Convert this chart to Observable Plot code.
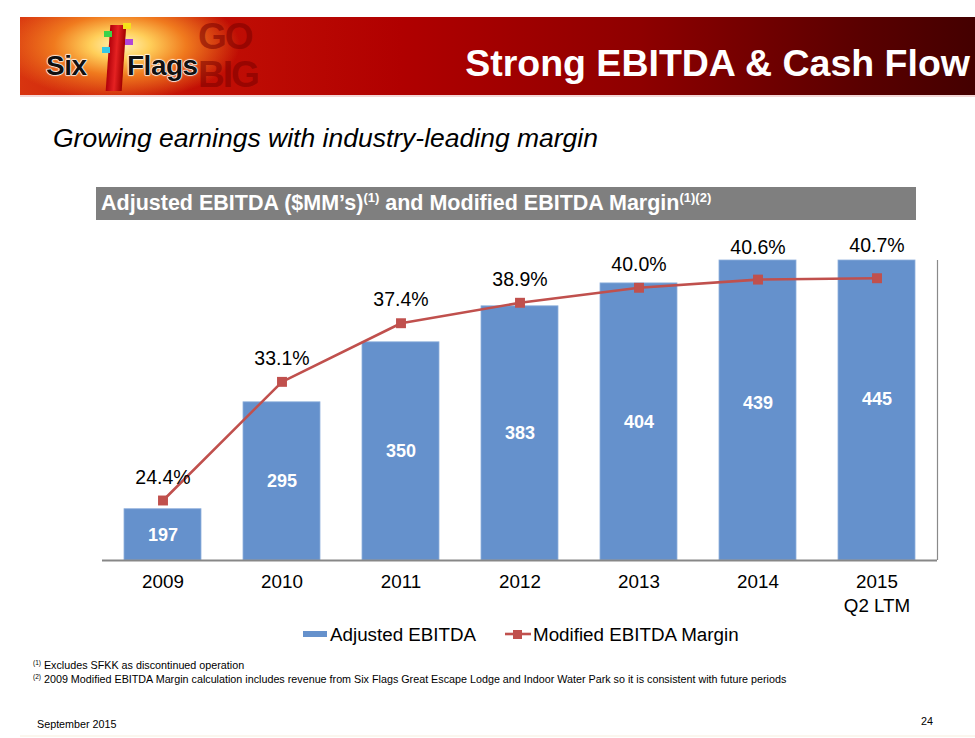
<!DOCTYPE html>
<html>
<head>
<meta charset="utf-8">
<script src="https://cdn.jsdelivr.net/npm/d3@7"></script>
<script src="https://cdn.jsdelivr.net/npm/@observablehq/plot@0.6"></script>
<style>
  html, body { margin: 0; padding: 0; background: #fff; }
  body { width: 975px; height: 738px; position: relative; overflow: hidden; font-family: "Liberation Sans", Arial, sans-serif; }
  .abs { position: absolute; white-space: nowrap; }
  #banner { left: 20px; top: 17px; width: 955px; height: 78px;
    background: linear-gradient(to right, #d8340f 0%, #c31005 18%, #b00000 40%, #8e0000 65%, #5a0000 88%, #440000 100%); overflow: hidden; }
  #glow { left: 0; top: 0; width: 260px; height: 78px;
    background: radial-gradient(ellipse 120px 55px at 100px 28px, #fff6c0 0%, #ffcf5a 25%, #f07a1e 55%, rgba(220,50,15,0) 100%); }
  .gobig { left: 178px; width: 110px; height: 38px; font-weight: bold; font-size: 37px; line-height: 38px; color: rgba(120,0,0,0.55); letter-spacing: -2px; }
  #go { top: 1px; }
  #big { top: 39px; }
  #tower { left: 88px; top: 8px; width: 16px; height: 66px; background: linear-gradient(to right, #b0000a, #e52222, #a00000); transform: skewX(-4deg); }
  .flag { position: absolute; width: 8px; height: 6px; }
  #six, #flags { top: 33px; font-weight: bold; font-size: 28px; color: #111; -webkit-text-stroke: 1px #fff; paint-order: stroke fill; letter-spacing: -0.5px; text-shadow: 0 0 2px #fff, 0 0 2px #fff; }
  #six { left: 26px; }
  #flags { left: 107px; }
  #title { right: 5px; top: 25px; font-weight: bold; font-size: 37.5px; color: #fff; }
  #rule { left: 20px; top: 95px; width: 955px; height: 2px; background: #f3d6d6; }
  #subtitle { left: 53px; top: 123px; font-style: italic; font-size: 26.5px; color: #000; }
  #graybar { left: 96px; top: 187px; width: 820px; height: 33px; background: #7f7f7f; }
  #graytext { left: 101px; top: 191px; font-weight: bold; font-size: 21.5px; color: #fff; }
  #graytext sup { font-size: 13px; vertical-align: 8px; line-height: 0; }
  #chart { left: 0; top: 230px; }
  #legend { left: 0; top: 622px; width: 975px; height: 24px; color: #000; }
  .fn { font-size: 10.75px; color: #000; }
  .fn sup { font-size: 6.5px; vertical-align: 4px; line-height: 0; }
  #foot1 { left: 33px; top: 659px; }
  #foot2 { left: 33px; top: 673px; }
  #date { left: 37px; top: 718px; font-size: 10.75px; }
  #page { left: 921px; top: 715px; font-size: 10.75px; }
  #footline { left: 20px; top: 735px; width: 955px; height: 2px; background: #fbf6ee; }
</style>
</head>
<body>
<div id="banner" class="abs">
  <div id="glow" class="abs"></div>
  <div id="go" class="abs gobig">GO</div>
  <div id="big" class="abs gobig">BIG</div>
  <div id="tower" class="abs"></div>
  <div class="flag" style="left:103px;top:6px;background:#f4e21a"></div>
  <div class="flag" style="left:84px;top:14px;background:#3bd24a"></div>
  <div class="flag" style="left:105px;top:22px;background:#b046d8"></div>
  <div class="flag" style="left:82px;top:30px;background:#35c8e6"></div>
  <div id="six" class="abs">Six</div>
  <div id="flags" class="abs">Flags</div>
  <div id="title" class="abs">Strong EBITDA &amp; Cash Flow</div>
</div>
<div id="rule" class="abs"></div>
<div id="subtitle" class="abs">Growing earnings with industry-leading margin</div>
<div id="graybar" class="abs"></div>
<div id="graytext" class="abs">Adjusted EBITDA ($MM’s)<sup>(1)</sup> and Modified EBITDA Margin<sup>(1)(2)</sup></div>
<div id="chart" class="abs"></div>
<div id="legend" class="abs"></div>
<div id="foot1" class="abs fn"><sup>(1)</sup> Excludes SFKK as discontinued operation</div>
<div id="foot2" class="abs fn"><sup>(2)</sup> 2009 Modified EBITDA Margin calculation includes revenue from Six Flags Great Escape Lodge and Indoor Water Park so it is consistent with future periods</div>
<div id="date" class="abs">September 2015</div>
<div id="page" class="abs">24</div>
<div id="footline" class="abs"></div>
<script>
// ---- data ----
const years = ["2009", "2010", "2011", "2012", "2013", "2014", "2015\nQ2 LTM"];
const adjustedEbitda = [197, 295, 350, 383, 404, 439, 445];        // $MM
const modifiedMargin = [24.4, 33.1, 37.4, 38.9, 40.0, 40.6, 40.7];  // %
const ebitdaDomain = [150, 425];
const marginDomain = [20, 42];
const seriesNames = ["Adjusted EBITDA", "Modified EBITDA Margin"];

const barColor = "#6591cc";
const lineColor = "#c0504d";

const rows = years.map((year, i) => ({year, ebitda: adjustedEbitda[i], margin: modifiedMargin[i], i}));
// secondary axis: map margin (%) onto the EBITDA scale
const marginToY = d3.scaleLinear(marginDomain, ebitdaDomain);

const W = 975, H = 390;
const chart = Plot.plot({
  width: W, height: H,
  marginTop: 30, marginBottom: 60, marginLeft: 102, marginRight: 38,
  style: {fontFamily: "'Liberation Sans', Arial, sans-serif", background: "transparent", overflow: "visible"},
  x: {domain: years, paddingInner: 0.355, paddingOuter: 0.178, axis: null},
  y: {domain: ebitdaDomain, clamp: true, axis: null},
  marks: [
    Plot.barY(rows, {x: "year", y: "ebitda", fill: barColor, stroke: "#8fb0dc", strokeWidth: 0.8}),
    Plot.ruleY([ebitdaDomain[0]], {stroke: "#878787", strokeWidth: 2.2}),
    Plot.text(rows, {x: "year", y: d => (ebitdaDomain[0] + d.ebitda) / 2, text: d => String(d.ebitda),
      fill: "#fff", fontWeight: "bold", fontSize: 18}),
    Plot.line(rows, {x: "year", y: d => marginToY(d.margin), stroke: lineColor, strokeWidth: 2.6}),
    Plot.dot(rows, {x: "year", y: d => marginToY(d.margin), symbol: "square", r: 5.6, fill: lineColor, stroke: "none"}),
    Plot.text(rows.filter(d => d.i < 5), {x: "year", y: d => marginToY(d.margin), dy: -23,
      text: d => d.margin.toFixed(1) + "%", fill: "#000", fontSize: 19.5}),
    Plot.text(rows.filter(d => d.i >= 5), {x: "year", y: d => marginToY(d.margin), dy: -32,
      text: d => d.margin.toFixed(1) + "%", fill: "#000", fontSize: 19.5}),
    Plot.text(rows, {x: "year", frameAnchor: "bottom", dy: 11, lineAnchor: "top", lineHeight: 1.25,
      text: "year", fill: "#000", fontSize: 18.8})
  ]
});
document.getElementById("chart").appendChild(chart);
// right-hand frame edge of the plot area
d3.select(chart).append("line")
  .attr("x1", W - 38 + 0.5).attr("x2", W - 38 + 0.5)
  .attr("y1", 30).attr("y2", H - 60)
  .attr("stroke", "#8a8a8a").attr("stroke-width", 1.2);

// ---- legend ----
const lg = d3.select("#legend").append("svg").attr("width", 975).attr("height", 24)
  .style("font-family", "'Liberation Sans', Arial, sans-serif");
lg.append("rect").attr("x", 303).attr("y", 9).attr("width", 24).attr("height", 6).attr("fill", barColor);
lg.append("text").attr("x", 330).attr("y", 19).attr("font-size", 18.8).text(seriesNames[0]);
lg.append("line").attr("x1", 505).attr("x2", 531).attr("y1", 12).attr("y2", 12).attr("stroke", lineColor).attr("stroke-width", 2.6);
lg.append("rect").attr("x", 513).attr("y", 8).attr("width", 9).attr("height", 9).attr("fill", lineColor);
lg.append("text").attr("x", 533).attr("y", 19).attr("font-size", 18.8).text(seriesNames[1]);
</script>
</body>
</html>
